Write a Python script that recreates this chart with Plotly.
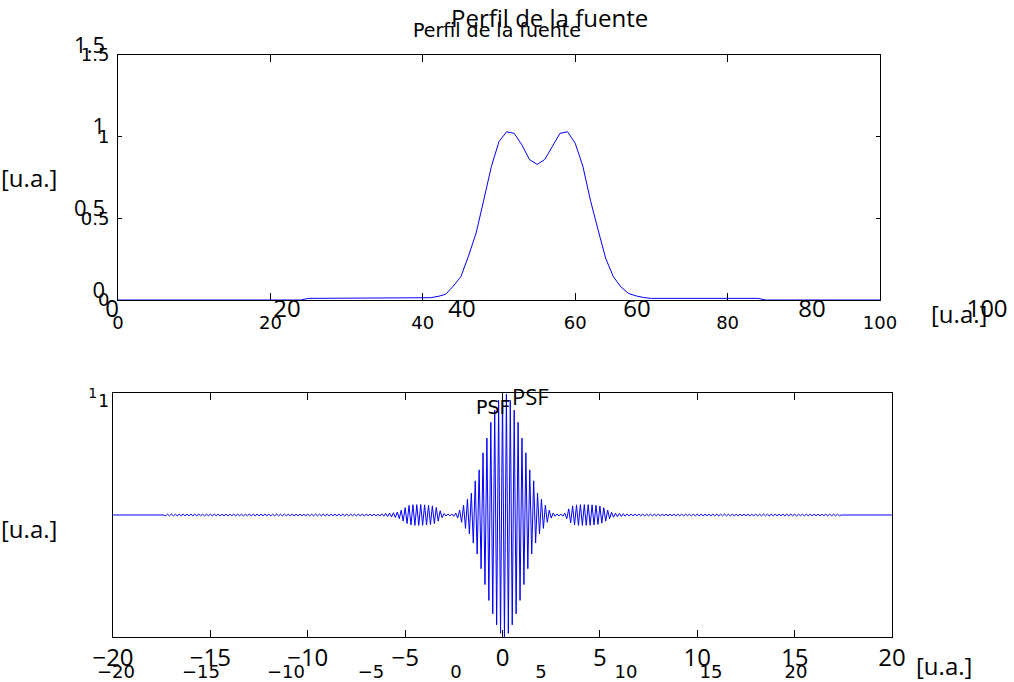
import plotly.graph_objects as go

W, H = 1014, 682

# top panel: source profile
src_x = [
    0, 1, 2, 3, 4, 5, 6, 7, 8, 9,
    10, 11, 12, 13, 14, 15, 16, 17, 18, 19,
    20, 21, 22, 23, 24, 25, 26, 27, 28, 29,
    30, 31, 32, 33, 34, 35, 36, 37, 38, 39,
    40, 41, 42, 43, 44, 45, 46, 47, 48, 49,
    50, 51, 52, 53, 54, 55, 56, 57, 58, 59,
    60, 61, 62, 63, 64, 65, 66, 67, 68, 69,
    70, 71, 72, 73, 74, 75, 76, 77, 78, 79,
    80, 81, 82, 83, 84, 85, 86, 87, 88, 89,
    90, 91, 92, 93, 94, 95, 96, 97, 98, 99,
    100,
]
src_y = [
    0, 0, 0, 0, 0, 0, 0, 0, 0, 0,
    0, 0, 0, 0, 0, 0, 0, 0, 0, 0,
    0, 0, 0, 0, 0, 0.01, 0.01, 0.01, 0.01, 0.01,
    0.01, 0.01, 0.01, 0.01, 0.01, 0.01, 0.01, 0.01, 0.01, 0.01,
    0.01, 0.014, 0.022, 0.035, 0.085, 0.143, 0.27, 0.41, 0.612, 0.817,
    0.97, 1.03, 1.02, 0.95, 0.86, 0.83, 0.86, 0.94, 1.02, 1.03,
    0.96, 0.82, 0.61, 0.43, 0.255, 0.143, 0.08, 0.04, 0.025, 0.015,
    0.01, 0.01, 0.01, 0.01, 0.01, 0.01, 0.01, 0.01, 0.01, 0.01,
    0.01, 0.01, 0.01, 0.01, 0.01, 0, 0, 0, 0, 0,
    0, 0, 0, 0, 0, 0, 0, 0, 0, 0,
    0,
]

# bottom panel: PSF
psf_x = [
    -20.0, -17.4, -17.3, -17.2, -17.1,
    -17.0, -16.9, -16.8, -16.7, -16.6, -16.5, -16.4, -16.3, -16.2, -16.1,
    -16.0, -15.9, -15.8, -15.7, -15.6, -15.5, -15.4, -15.3, -15.2, -15.1,
    -15.0, -14.9, -14.8, -14.7, -14.6, -14.5, -14.4, -14.3, -14.2, -14.1,
    -14.0, -13.9, -13.8, -13.7, -13.6, -13.5, -13.4, -13.3, -13.2, -13.1,
    -13.0, -12.9, -12.8, -12.7, -12.6, -12.5, -12.4, -12.3, -12.2, -12.1,
    -12.0, -11.9, -11.8, -11.7, -11.6, -11.5, -11.4, -11.3, -11.2, -11.1,
    -11.0, -10.9, -10.8, -10.7, -10.6, -10.5, -10.4, -10.3, -10.2, -10.1,
    -10.0, -9.9, -9.8, -9.7, -9.6, -9.5, -9.4, -9.3, -9.2, -9.1,
    -9.0, -8.9, -8.8, -8.7, -8.6, -8.5, -8.4, -8.3, -8.2, -8.1,
    -8.0, -7.9, -7.8, -7.7, -7.6, -7.5, -7.4, -7.3, -7.2, -7.1,
    -7.0, -6.9, -6.8, -6.7, -6.6, -6.5, -6.4, -6.3, -6.2, -6.1,
    -6.0, -5.9, -5.8, -5.7, -5.6, -5.5, -5.4, -5.3, -5.2, -5.1,
    -5.0, -4.9, -4.8, -4.7, -4.6, -4.5, -4.4, -4.3, -4.2, -4.1,
    -4.0, -3.9, -3.8, -3.7, -3.6, -3.5, -3.4, -3.3, -3.2, -3.1,
    -3.0, -2.9, -2.8, -2.7, -2.6, -2.5, -2.4, -2.3, -2.2, -2.1,
    -2.0, -1.9, -1.8, -1.7, -1.6, -1.5, -1.4, -1.3, -1.2, -1.1,
    -1.0, -0.9, -0.8, -0.7, -0.6, -0.5, -0.4, -0.3, -0.2, -0.1,
    0.0, 0.1, 0.2, 0.3, 0.4, 0.5, 0.6, 0.7, 0.8, 0.9,
    1.0, 1.1, 1.2, 1.3, 1.4, 1.5, 1.6, 1.7, 1.8, 1.9,
    2.0, 2.1, 2.2, 2.3, 2.4, 2.5, 2.6, 2.7, 2.8, 2.9,
    3.0, 3.1, 3.2, 3.3, 3.4, 3.5, 3.6, 3.7, 3.8, 3.9,
    4.0, 4.1, 4.2, 4.3, 4.4, 4.5, 4.6, 4.7, 4.8, 4.9,
    5.0, 5.1, 5.2, 5.3, 5.4, 5.5, 5.6, 5.7, 5.8, 5.9,
    6.0, 6.1, 6.2, 6.3, 6.4, 6.5, 6.6, 6.7, 6.8, 6.9,
    7.0, 7.1, 7.2, 7.3, 7.4, 7.5, 7.6, 7.7, 7.8, 7.9,
    8.0, 8.1, 8.2, 8.3, 8.4, 8.5, 8.6, 8.7, 8.8, 8.9,
    9.0, 9.1, 9.2, 9.3, 9.4, 9.5, 9.6, 9.7, 9.8, 9.9,
    10.0, 10.1, 10.2, 10.3, 10.4, 10.5, 10.6, 10.7, 10.8, 10.9,
    11.0, 11.1, 11.2, 11.3, 11.4, 11.5, 11.6, 11.7, 11.8, 11.9,
    12.0, 12.1, 12.2, 12.3, 12.4, 12.5, 12.6, 12.7, 12.8, 12.9,
    13.0, 13.1, 13.2, 13.3, 13.4, 13.5, 13.6, 13.7, 13.8, 13.9,
    14.0, 14.1, 14.2, 14.3, 14.4, 14.5, 14.6, 14.7, 14.8, 14.9,
    15.0, 15.1, 15.2, 15.3, 15.4, 15.5, 15.6, 15.7, 15.8, 15.9,
    16.0, 16.1, 16.2, 16.3, 16.4, 16.5, 16.6, 16.7, 16.8, 16.9,
    17.0, 17.1, 17.2, 17.3, 17.4, 20.0,
]
psf_y = [
    0, 0, -0.007, 0.007, -0.007,
    0.007, -0.007, 0.007, -0.007, 0.007, -0.007, 0.007, -0.007, 0.007, -0.007,
    0.007, -0.007, 0.007, -0.007, 0.007, -0.007, 0.007, -0.007, 0.007, -0.007,
    0.007, -0.007, 0.007, -0.007, 0.007, -0.007, 0.007, -0.007, 0.007, -0.007,
    0.007, -0.007, 0.007, -0.007, 0.007, -0.007, 0.007, -0.007, 0.007, -0.007,
    0.007, -0.007, 0.007, -0.007, 0.007, -0.007, 0.007, -0.007, 0.007, -0.007,
    0.007, -0.007, 0.007, -0.007, 0.007, -0.007, 0.007, -0.007, 0.007, -0.007,
    0.007, -0.007, 0.007, -0.007, 0.007, -0.007, 0.007, -0.007, 0.007, -0.007,
    0.007, -0.007, 0.007, -0.007, 0.007, -0.007, 0.007, -0.007, 0.007, -0.007,
    0.007, -0.007, 0.007, -0.007, 0.007, -0.007, 0.007, -0.007, 0.007, -0.007,
    0.007, -0.007, 0.007, -0.007, 0.007, -0.007, 0.007, -0.007, 0.007, -0.007,
    0.007, -0.007, 0.007, -0.007, 0.008, -0.008, 0.008, -0.009, 0.01, -0.01,
    0.012, -0.013, 0.015, -0.016, 0.018, -0.02, 0.025, -0.03, 0.04, -0.05,
    0.06, -0.07, 0.078, -0.082, 0.084, -0.085, 0.085, -0.085, 0.085, -0.084,
    0.083, -0.082, 0.08, -0.078, 0.075, -0.07, 0.062, -0.05, 0.035, -0.022,
    0.012, -0.008, 0.008, -0.007, 0.008, -0.01, 0.015, -0.025, 0.04, -0.06,
    0.08, -0.11, 0.13, -0.155, 0.18, -0.23, 0.28, -0.32, 0.37, -0.44,
    0.51, -0.57, 0.63, -0.70, 0.76, -0.81, 0.86, -0.90, 0.94, -0.97,
    0.99, -1.0, 0.99, -0.97, 0.94, -0.90, 0.86, -0.81, 0.76, -0.70,
    0.63, -0.57, 0.51, -0.44, 0.37, -0.32, 0.28, -0.23, 0.18, -0.155,
    0.13, -0.11, 0.08, -0.06, 0.04, -0.025, 0.015, -0.01, 0.008, -0.007,
    0.008, -0.01, 0.015, -0.03, 0.05, -0.065, 0.075, -0.08, 0.083, -0.085,
    0.085, -0.085, 0.085, -0.085, 0.085, -0.084, 0.083, -0.082, 0.08, -0.077,
    0.073, -0.067, 0.06, -0.05, 0.04, -0.03, 0.022, -0.018, 0.015, -0.014,
    0.013, -0.012, 0.011, -0.01, 0.009, -0.008, 0.008, -0.007, 0.007, -0.007,
    0.007, -0.007, 0.007, -0.007, 0.007, -0.007, 0.007, -0.007, 0.007, -0.007,
    0.007, -0.007, 0.007, -0.007, 0.007, -0.007, 0.007, -0.007, 0.007, -0.007,
    0.007, -0.007, 0.007, -0.007, 0.007, -0.007, 0.007, -0.007, 0.007, -0.007,
    0.007, -0.007, 0.007, -0.007, 0.007, -0.007, 0.007, -0.007, 0.007, -0.007,
    0.007, -0.007, 0.007, -0.007, 0.007, -0.007, 0.007, -0.007, 0.007, -0.007,
    0.007, -0.007, 0.007, -0.007, 0.007, -0.007, 0.007, -0.007, 0.007, -0.007,
    0.007, -0.007, 0.007, -0.007, 0.007, -0.007, 0.007, -0.007, 0.007, -0.007,
    0.007, -0.007, 0.007, -0.007, 0.007, -0.007, 0.007, -0.007, 0.007, -0.007,
    0.007, -0.007, 0.007, -0.007, 0.007, -0.007, 0.007, -0.007, 0.007, -0.007,
    0.007, -0.007, 0.007, -0.007, 0.007, -0.007, 0.007, -0.007, 0.007, -0.007,
    0.007, -0.007, 0.007, -0.007, 0, 0,
]

src_ticks = [0, 20, 40, 60, 80, 100]
src_yticks = [0, 0.5, 1, 1.5]
src_yticktext = ["0", "0.5", "1", "1.5"]
psf_ticks = [-20, -15, -10, -5, 0, 5, 10, 15, 20]

title_top = "Perfil de la fuente"
title_bottom = "PSF"
unit_label = "[u.a.]"


# page pixel -> paper fraction
def fx(p):
    return p / W


def fy(p):
    return 1 - p / H


BLUE = "#0000ff"
F_A = "DejaVu Sans"   # the smaller, stretched set of labels
F_B = "Open Sans"     # the larger set

fig = go.Figure()
fig.add_trace(go.Scatter(x=src_x, y=src_y, mode="lines", line=dict(color=BLUE, width=1),
                         xaxis="x", yaxis="y", showlegend=False, hoverinfo="skip"))
fig.add_trace(go.Scatter(x=psf_x, y=psf_y, mode="lines", line=dict(color=BLUE, width=1),
                         xaxis="x2", yaxis="y2", showlegend=False, hoverinfo="skip"))
# empty traces so the label-only axes get drawn
fig.add_trace(go.Scatter(x=[None], y=[None], xaxis="x3", yaxis="y3", showlegend=False))
fig.add_trace(go.Scatter(x=[None], y=[None], xaxis="x4", yaxis="y4", showlegend=False))

box = dict(showline=True, linecolor="black", linewidth=1, mirror="ticks", ticks="inside",
           tickcolor="black", showgrid=False, zeroline=False, automargin=False)
bare = dict(showline=False, ticks="", showgrid=False, zeroline=False, automargin=False)

fig.update_layout(
    template="none",
    width=W, height=H, autosize=False,
    margin=dict(l=0, r=0, t=0, b=0, pad=0),
    paper_bgcolor="white", plot_bgcolor="rgba(0,0,0,0)",
    xaxis=dict(box, domain=[fx(118), fx(880)], range=[0, 100], anchor="y",
               tickvals=src_ticks, ticklen=7, ticklabelstandoff=6, layer="below traces",
               tickfont=dict(family=F_A, size=18, color="black")),
    yaxis=dict(box, domain=[fy(300), fy(55)], range=[0, 1.5], anchor="x",
               tickvals=src_yticks, ticktext=src_yticktext, ticklen=4, ticklabelstandoff=4,
               layer="below traces",
               tickfont=dict(family=F_A, size=18, color="black")),
    xaxis2=dict(box, domain=[fx(113), fx(892)], range=[-20, 20], anchor="y2",
                tickvals=psf_ticks, ticklen=7, ticklabelstandoff=-1,
                tickfont=dict(family=F_B, size=24, color="black")),
    yaxis2=dict(box, domain=[fy(637), fy(393)], range=[-1, 1], anchor="x2",
                tickvals=[1], ticktext=["1"], ticklen=4, ticklabelstandoff=12,
                tickfont=dict(family=F_A, size=14, color="black")),
    xaxis3=dict(bare, domain=[fx(112), fx(987)], range=[0, 100], anchor="y3",
                tickvals=src_ticks, ticklabelstandoff=2,
                tickfont=dict(family=F_B, size=24, color="black")),
    yaxis3=dict(bare, domain=[fy(290), fy(45)], range=[0, 1.5], anchor="x3",
                tickvals=src_yticks, ticktext=src_yticktext, ticklabelstandoff=6,
                tickfont=dict(family=F_B, size=22, color="black")),
    xaxis4=dict(bare, domain=[fx(116), fx(796)], range=[-20, 20], anchor="y4",
                tickvals=psf_ticks, ticklabelstandoff=4,
                tickfont=dict(family=F_A, size=18, color="black")),
    yaxis4=dict(bare, domain=[fy(655), fy(401)], range=[-1, 1], anchor="x4",
                tickvals=[1], ticktext=["1"], ticklabelstandoff=6,
                tickfont=dict(family=F_A, size=17, color="black")),
)

labels = [
    (title_top, 549, 18, F_B, 24),
    (title_top, 497, 30, F_A, 19),
    (title_bottom, 530, 396, F_B, 22),
    (title_bottom, 493, 407, F_A, 19),
    (unit_label, 29, 177, F_B, 24),
    (unit_label, 29, 528, F_B, 24),
    (unit_label, 959, 313, F_B, 24),
    (unit_label, 944, 665, F_B, 24),
]
for txt, xp, yp, fam, size in labels:
    fig.add_annotation(text=txt, x=fx(xp), y=fy(yp), xref="paper", yref="paper",
                       xanchor="center", yanchor="middle", showarrow=False,
                       font=dict(family=fam, size=size, color="black"))

# drop the default page margin so the figure starts at the window corner
fig.write_html("out.html", config={"displayModeBar": False},
               post_script="document.body.style.margin = '0';")
